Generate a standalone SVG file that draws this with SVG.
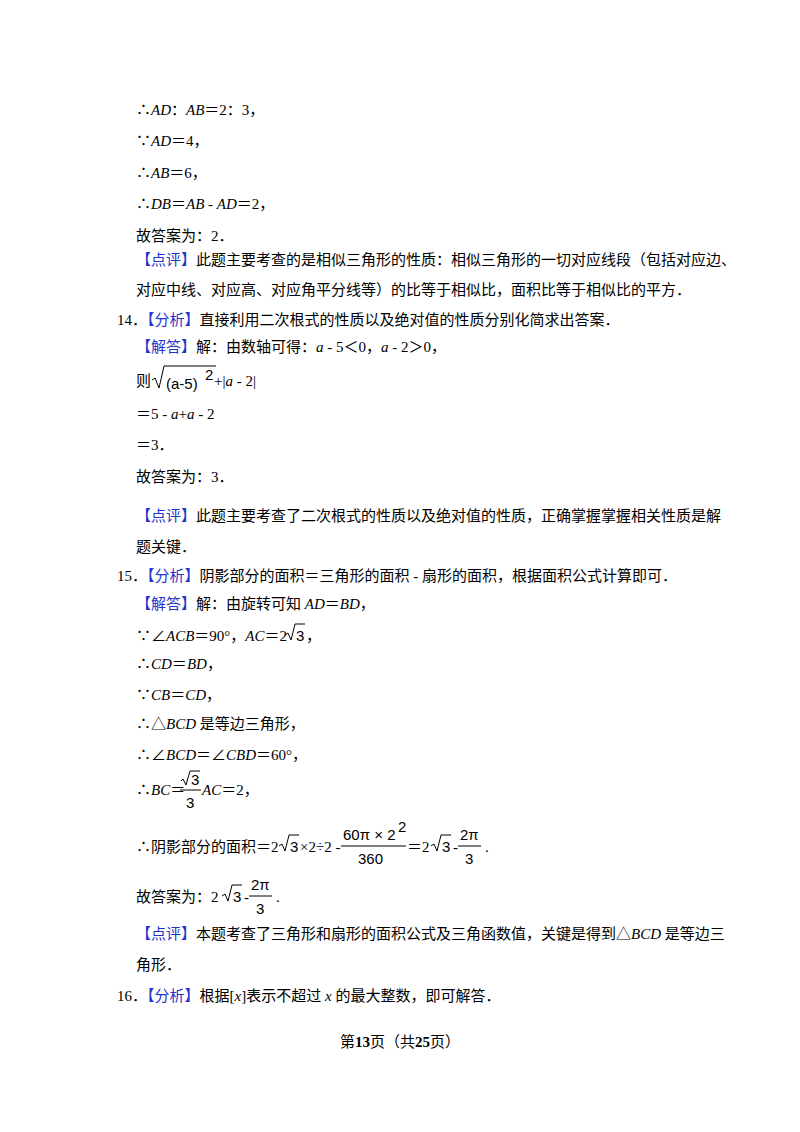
<svg xmlns="http://www.w3.org/2000/svg" width="800" height="1132" viewBox="0 0 800 1132">
<style>
text{font-family:"Liberation Serif","Noto Sans CJK SC",serif;font-size:15px;fill:#000}
.b{fill:#2233cc}
.i{font-style:italic}
.s{font-family:"Liberation Sans","Noto Sans CJK SC",sans-serif;font-size:15px}
line,path{stroke:#000;stroke-width:1;fill:none}
</style>
<rect width="800" height="1132" fill="#fff"/>
<text x="136" y="115">∴<tspan class="i">AD</tspan>：<tspan class="i">AB</tspan>＝2：3，</text>
<text x="136" y="146">∵<tspan class="i">AD</tspan>＝4，</text>
<text x="136" y="178">∴<tspan class="i">AB</tspan>＝6，</text>
<text x="136" y="209">∴<tspan class="i">DB</tspan>＝<tspan class="i">AB</tspan> - <tspan class="i">AD</tspan>＝2，</text>
<text x="136" y="241">故答案为：2．</text>
<text x="136" y="265"><tspan class="b">【点评】</tspan>此题主要考查的是相似三角形的性质：相似三角形的一切对应线段（包括对应边、</text>
<text x="136" y="295">对应中线、对应高、对应角平分线等）的比等于相似比，面积比等于相似比的平方．</text>
<text x="117" y="325">14．<tspan class="b">【分析】</tspan>直接利用二次根式的性质以及绝对值的性质分别化简求出答案．</text>
<text x="136" y="352"><tspan class="b">【解答】</tspan>解：由数轴可得：<tspan class="i">a</tspan> - 5＜0，<tspan class="i">a</tspan> - 2＞0，</text>
<text x="136" y="386">则</text>
<path d="M152 380 l3 -2 l4 10 l5 -22 h52"/>
<text x="166" y="389" class="s">(a-5)</text>
<text x="205" y="380" class="s">2</text>
<text x="214" y="386">+|<tspan class="i">a</tspan> - 2|</text>
<text x="136" y="419">＝5 - <tspan class="i">a</tspan>+<tspan class="i">a</tspan> - 2</text>
<text x="136" y="450">＝3．</text>
<text x="136" y="482">故答案为：3．</text>
<text x="136" y="521"><tspan class="b">【点评】</tspan>此题主要考查了二次根式的性质以及绝对值的性质，正确掌握掌握相关性质是解</text>
<text x="136" y="552">题关键．</text>
<text x="117" y="581">15．<tspan class="b">【分析】</tspan>阴影部分的面积＝三角形的面积 - 扇形的面积，根据面积公式计算即可．</text>
<text x="136" y="609"><tspan class="b">【解答】</tspan>解：由旋转可知 <tspan class="i">AD</tspan>＝<tspan class="i">BD</tspan>，</text>
<text x="136" y="641">∵∠<tspan class="i">ACB</tspan>＝90°，<tspan class="i">AC</tspan>＝2</text>
<path d="M285 635 l3 -2 l3 7 l4 -16 h10"/>
<text x="296" y="641" class="s">3</text>
<text x="306" y="641">，</text>
<text x="136" y="669">∴<tspan class="i">CD</tspan>＝<tspan class="i">BD</tspan>，</text>
<text x="136" y="700">∵<tspan class="i">CB</tspan>＝<tspan class="i">CD</tspan>，</text>
<text x="136" y="729">∴△<tspan class="i">BCD</tspan> 是等边三角形，</text>
<text x="136" y="760">∴∠<tspan class="i">BCD</tspan>＝∠<tspan class="i">CBD</tspan>＝60°，</text>
<text x="136" y="795">∴<tspan class="i">BC</tspan>＝</text>
<path d="M181 781 l2 -2 l3 6 l4 -14 h10"/>
<text x="191" y="785" class="s">3</text>
<line x1="180" y1="790" x2="201" y2="790"/>
<text x="186" y="808" class="s">3</text>
<text x="202" y="795"><tspan class="i">AC</tspan>＝2，</text>
<text x="136" y="852">∴阴影部分的面积＝2</text>
<path d="M279 846 l3 -2 l3 7 l4 -16 h10"/>
<text x="290" y="852" class="s">3</text>
<text x="300" y="852">×2÷2 - </text>
<text x="343" y="840" class="s">60π × 2</text>
<text x="398" y="832" class="s" font-size="11">2</text>
<line x1="341" y1="846" x2="406" y2="846"/>
<text x="358" y="864" class="s">360</text>
<text x="407" y="852">＝2</text>
<path d="M431 846 l3 -2 l3 7 l4 -16 h10"/>
<text x="442" y="852" class="s">3</text>
<text x="453" y="852">-</text>
<text x="460" y="840" class="s">2π</text>
<line x1="458" y1="846" x2="481" y2="846"/>
<text x="465" y="864" class="s">3</text>
<text x="485" y="852">.</text>
<text x="136" y="902">故答案为：2</text>
<path d="M222 896 l3 -2 l3 7 l4 -16 h10"/>
<text x="233" y="902" class="s">3</text>
<text x="244" y="902">-</text>
<text x="251" y="890" class="s">2π</text>
<line x1="249" y1="896" x2="272" y2="896"/>
<text x="256" y="914" class="s">3</text>
<text x="276" y="902">.</text>
<text x="136" y="939"><tspan class="b">【点评】</tspan>本题考查了三角形和扇形的面积公式及三角函数值，关键是得到△<tspan class="i">BCD</tspan> 是等边三</text>
<text x="136" y="970">角形．</text>
<text x="117" y="1001">16．<tspan class="b">【分析】</tspan>根据[<tspan class="i">x</tspan>]表示不超过 <tspan class="i">x</tspan> 的最大整数，即可解答．</text>
<text x="400" y="1047" text-anchor="middle" font-size="13">第<tspan font-weight="bold" font-size="15">13</tspan>页（共<tspan font-weight="bold" font-size="15">25</tspan>页）</text>
</svg>
